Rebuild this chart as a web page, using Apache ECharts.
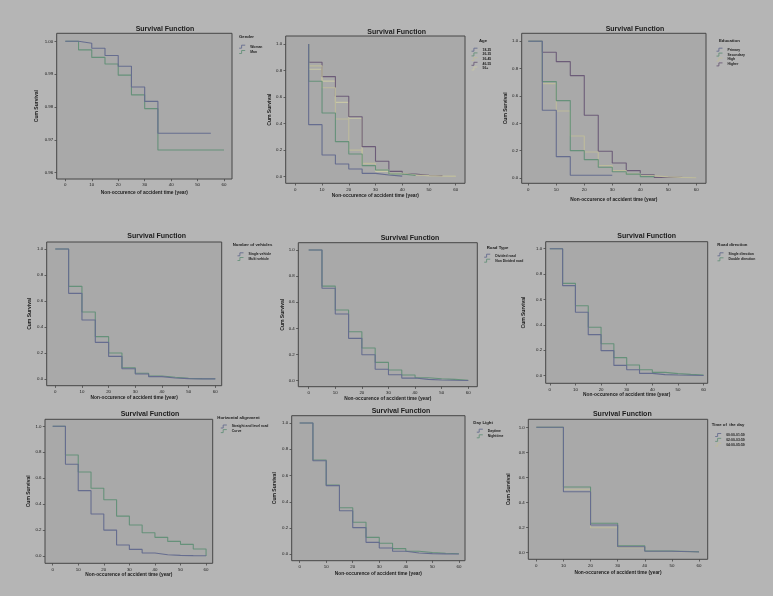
<!DOCTYPE html>
<html><head><meta charset="utf-8">
<script src="https://cdn.jsdelivr.net/npm/echarts@6/dist/echarts.min.js"></script>
<style>html,body{margin:0;padding:0;background:#b5b5b5}#c{width:773px;height:596px}</style>
</head><body><div id="c"></div>
<script>
// ---------------- DATA ----------------
const xTicks = [0, 10, 20, 30, 40, 50, 60];
const yTicksGender = [0.96, 0.97, 0.98, 0.99, 1.00];
const yTicks = [0.0, 0.2, 0.4, 0.6, 0.8, 1.0];
const times5 = [0, 5, 10, 15, 20, 25, 30, 35, 40, 45, 50, 55, 60];
const times10 = [0, 10, 20, 30, 40, 50, 60];

// Gender
const genderNames = ["Woman", "Man"];
const womanTimes = [0, 5, 10, 15, 20, 25, 30, 35, 55];
const womanSurv = [1.0, 0.9994, 0.9979, 0.9957, 0.9924, 0.9861, 0.9817, 0.9720, 0.9720];
const manTimes = [0, 5, 10, 15, 20, 25, 30, 35, 60];
const manSurv = [1.0, 0.9974, 0.9951, 0.9931, 0.9897, 0.9837, 0.9795, 0.9669, 0.9669];

// Age
const ageNames = ["18-25", "26-35", "36-45", "46-55", "56+"];
const age1Times = [5, 5, 10, 15, 20, 25, 30, 35, 40];
const age1Surv = [1.0, 0.392, 0.163, 0.095, 0.058, 0.025, 0.013, 0.004, 0.004];
const age2Times = [5, 5, 10, 15, 20, 25, 30, 35, 40, 45];
const age2Surv = [1.0, 0.719, 0.48, 0.264, 0.171, 0.083, 0.05, 0.02, 0.01, 0.01];
const age3Times = [5, 5, 10, 15, 20, 25, 30, 35, 40, 45, 50, 55, 60];
const age3Surv = [1.0, 0.835, 0.67, 0.435, 0.2, 0.1, 0.05, 0.025, 0.012, 0.008, 0.005, 0.003, 0.003];
const age4Times = [5, 5, 10, 15, 20, 25, 30, 35, 40, 45, 50, 55];
const age4Surv = [1.0, 0.862, 0.754, 0.606, 0.452, 0.226, 0.116, 0.04, 0.02, 0.01, 0.008, 0.008];
const age5Times = [5, 5, 10, 15, 20, 25, 30, 35, 40, 45, 50, 55, 60];
const age5Surv = [1.0, 0.81, 0.72, 0.56, 0.44, 0.085, 0.04, 0.02, 0.012, 0.008, 0.005, 0.003, 0.003];

// Education
const eduNames = ["Primary", "Secondary", "High", "Higher"];
const eduPrimaryTimes = [0, 5, 10, 15, 30];
const eduPrimary = [1.0, 0.495, 0.156, 0.02, 0.02];
const eduSecondaryTimes = [0, 5, 10, 15, 20, 25, 30, 35, 40, 45];
const eduSecondary = [1.0, 0.705, 0.566, 0.2, 0.134, 0.078, 0.046, 0.028, 0.01, 0.01];
const eduHighTimes = [0, 5, 10, 15, 20, 25, 30, 35, 40, 45, 50, 55, 60];
const eduHigh = [1.0, 0.69, 0.49, 0.307, 0.19, 0.09, 0.054, 0.03, 0.015, 0.008, 0.004, 0.002, 0.002];
const eduHigherTimes = [0, 5, 10, 15, 20, 25, 30, 35, 40, 45, 55];
const eduHigher = [1.0, 0.92, 0.851, 0.749, 0.459, 0.195, 0.11, 0.054, 0.024, 0.004, 0.004];

// Number of vehicles
const vehNames = ["Single vehicle", "Multi vehicle"];
const vehSingle = [1.0, 0.659, 0.454, 0.282, 0.174, 0.079, 0.038, 0.018, 0.008, 0.003, 0.001, 0.001, 0.001];
const vehMulti = [1.0, 0.713, 0.515, 0.326, 0.2, 0.087, 0.044, 0.023, 0.013, 0.005, 0.003, 0.002, 0.002];

// Road type
const roadTypeNames = ["Divided road", "Non Divided road"];
const roadDivided = [1.0, 0.707, 0.51, 0.324, 0.199, 0.087, 0.046, 0.02, 0.01, 0.005, 0.003, 0.002, 0.002];
const roadNonDivided = [1.0, 0.724, 0.541, 0.375, 0.25, 0.14, 0.082, 0.043, 0.023, 0.015, 0.01, 0.003, 0.003];

// Road direction
const dirNames = ["Single direction", "Double direction"];
const dirSingle = [1.0, 0.709, 0.499, 0.323, 0.197, 0.081, 0.047, 0.018, 0.008, 0.005, 0.003, 0.001, 0.001];
const dirDouble = [1.0, 0.727, 0.551, 0.381, 0.252, 0.142, 0.084, 0.047, 0.026, 0.016, 0.01, 0.005, 0.005];

// Horizontal alignment
const alignNames = ["Straight and level road", "Curve"];
const alignStraight = [1.0, 0.707, 0.504, 0.324, 0.2, 0.085, 0.051, 0.023, 0.01, 0.005, 0.003, 0.002, 0.002];
const alignCurve = [1.0, 0.779, 0.648, 0.522, 0.434, 0.308, 0.239, 0.18, 0.144, 0.113, 0.09, 0.054, 0.0];

// Day light
const dayNames = ["Daytime", "Nighttime"];
const dayDaytime = [1.0, 0.713, 0.523, 0.332, 0.203, 0.091, 0.048, 0.023, 0.01, 0.005, 0.003, 0.002, 0.002];
const dayNighttime = [1.0, 0.718, 0.528, 0.355, 0.244, 0.129, 0.084, 0.043, 0.023, 0.013, 0.008, 0.004, 0.004];

// Time of the day
const todNames = ["00:00-01:59", "02:00-03:59", "04:00-05:59"];
const tod0 = [1.0, 0.485, 0.219, 0.045, 0.008, 0.003, 0.003];
const tod2 = [1.0, 0.523, 0.232, 0.053, 0.011, 0.004, 0.004];
const tod4 = [1.0, 0.504, 0.197, 0.037, 0.006, 0.002, 0.002];

const legendTitles = ["Gender", "Age", "Education", "Number of vehicles", "Road Type", "Road direction", "Horizontal alignment", "Day Light", "Time of  the day"];
const chartTitle = "Survival Function";
const xTitle = "Non-occurence of accident time (year)";
const yTitle = "Cum Survival";

// ---------------- STYLE / LAYOUT ----------------
const C_BLUE = "#666d8f", C_GREEN = "#66917a", C_BEIGE = "#bdbb9c", C_PURPLE = "#6c5c78", C_YELLOW = "#c8c7a6";
const colors = [C_BLUE, C_GREEN, C_BEIGE, C_PURPLE, C_YELLOW];
const PLOT_BG = "#a9a9a9", FRAME = "#474747", TXT = "#1c1c1c";

const panels = [
  {L:56.7,T:33.3,W:175.3,H:145.7,x:[-3.25,63.0],y:[0.95808,1.00244],dec:2,yt:yTicksGender,title:[165,29.3],legT:[239,37.3],legX:236.7,legC:44.7,pitch:5.3,yGap:19.7,xGap:14,
   series:[[womanTimes,womanSurv],[manTimes,manSurv]],names:genderNames},
  {L:285.7,T:36,W:179.3,H:147.3,x:[-3.59,63.48],y:[-0.05,1.06],dec:1,yt:yTicks,title:[396.7,32.3],legT:[479,40.7],legX:469,legC:47.7,pitch:4.7,yGap:13.5,xGap:12.7,
   series:[[age1Times,age1Surv],[age2Times,age2Surv],[age3Times,age3Surv],[age4Times,age4Surv],[age5Times,age5Surv]],names:ageNames},
  {L:521.7,T:33.3,W:184.3,H:150,x:[-2.36,63.5],y:[-0.039,1.0585],dec:1,yt:yTicks,title:[635,29.3],legT:[719,41.3],legX:714,legC:47.7,pitch:4.9,yGap:14.7,xGap:16,
   series:[[eduPrimaryTimes,eduPrimary],[eduSecondaryTimes,eduSecondary],[eduHighTimes,eduHigh],[eduHigherTimes,eduHigher]],names:eduNames},
  {L:46.7,T:242,W:175,H:143.7,x:[-3.22,62.4],y:[-0.0515,1.054],dec:1,yt:yTicks,title:[156.7,236],legT:[232.7,245],legX:235,legC:252.3,pitch:4.7,yGap:16.7,xGap:12,
   series:[[times5,vehSingle],[times5,vehMulti]],names:vehNames},
  {L:298.3,T:242.7,W:179,H:144,x:[-3.9,63.4],y:[-0.046,1.056],dec:1,yt:yTicks,title:[410,237.7],legT:[486.7,248.3],legX:481.7,legC:253.7,pitch:5,yGap:15,xGap:12.3,
   series:[[times5,roadDivided],[times5,roadNonDivided]],names:roadTypeNames},
  {L:545.7,T:241.7,W:162,H:141.6,x:[-1.6,61.6],y:[-0.06,1.055],dec:1,yt:yTicks,title:[646.7,236.3],legT:[717.3,245],legX:715,legC:252.3,pitch:5,yGap:22.4,xGap:10,
   series:[[times5,dirSingle],[times5,dirDouble]],names:dirNames},
  {L:45,T:419.3,W:167.7,H:144,x:[-3.0,62.6],y:[-0.056,1.054],dec:1,yt:yTicks,title:[150,414.3],legT:[217.3,418.3],legX:218.3,legC:424.5,pitch:4.6,yGap:16.7,xGap:11,
   series:[[times5,alignStraight],[times5,alignCurve]],names:alignNames},
  {L:291.7,T:415.7,W:173.3,H:145,x:[-3.0,62.3],y:[-0.049,1.056],dec:1,yt:yTicks,title:[401,411],legT:[473.3,423.3],legX:474.3,legC:428.7,pitch:5.6,yGap:16.7,xGap:13.3,
   series:[[times5,dayDaytime],[times5,dayNighttime]],names:dayNames},
  {L:528.3,T:419.3,W:179.4,H:140,x:[-2.95,63.2],y:[-0.056,1.064],dec:1,yt:yTicks,title:[622.3,414],legT:[711.7,425.3],legX:712.7,legC:433,pitch:4.85,yGap:20,xGap:13,
   series:[[times10,tod0],[times10,tod2],[times10,tod4]],names:todNames}
];

const FONT = "Liberation Sans, Arial, sans-serif";
const grid = [], xAxis = [], yAxis = [], series = [], legend = [], graphic = [];

panels.forEach((p, i) => {
  grid.push({left:p.L, top:p.T, width:p.W, height:p.H, show:true, backgroundColor:PLOT_BG, borderColor:FRAME, borderWidth:1, containLabel:false});
  xAxis.push({type:'value', gridIndex:i, min:p.x[0], max:p.x[1], position:'bottom',
    name:xTitle, nameLocation:'middle', nameGap:p.xGap - 2.6,
    nameTextStyle:{fontFamily:FONT, fontSize:4.8, fontWeight:'bold', color:TXT},
    axisLine:{show:false, onZero:false}, splitLine:{show:false},
    axisTick:{show:true, inside:false, length:2.2, customValues:xTicks, lineStyle:{color:FRAME, width:0.8}},
    axisLabel:{show:true, customValues:xTicks, fontFamily:FONT, fontSize:4.4, color:TXT, margin:4, formatter:v => String(Math.round(v))}});
  yAxis.push({type:'value', gridIndex:i, min:p.y[0], max:p.y[1], position:'left',
    name:yTitle, nameLocation:'middle', nameGap:p.yGap - 2.6, nameRotate:90,
    nameTextStyle:{fontFamily:FONT, fontSize:5, fontWeight:'bold', color:TXT},
    axisLine:{show:false, onZero:false}, splitLine:{show:false},
    axisTick:{show:true, inside:false, length:2.2, customValues:p.yt, lineStyle:{color:FRAME, width:0.8}},
    axisLabel:{show:true, customValues:p.yt, fontFamily:FONT, fontSize:4.4, color:TXT, margin:3.5, formatter:v => v.toFixed(p.dec)}});
  p.series.forEach((s, k) => {
    const [ts, vs] = s;
    series.push({type:'line', name:p.names[k], xAxisIndex:i, yAxisIndex:i, step:'end', symbol:'none', silent:true,
      color:colors[k], lineStyle:{color:colors[k], width:1.1},
      data: ts.map((t, j) => [t, vs[j]]), z: 10 - k});
    // one legend entry per component so each row sits exactly where the reference has it
    legend.push({data:[{name:p.names[k], itemStyle:{color:'none', borderColor:colors[k], borderWidth:0.9}}],
      icon:'path://M0,6L4,6L4,0L10,0', symbolKeepAspect:false,
      orient:'vertical', left:p.legX, top:p.legC + k * p.pitch - 2, padding:0, itemGap:0,
      itemWidth:6, itemHeight:3, selectedMode:false,
      textStyle:{fontFamily:FONT, fontSize:3.4, lineHeight:4, fontWeight:'bold', color:TXT}});
  });
  graphic.push({type:'text', x:p.title[0], y:p.title[1], style:{text:chartTitle, fill:TXT, font:'bold 7px ' + FONT, textAlign:'center', textVerticalAlign:'middle', align:'center', verticalAlign:'middle'}});
  graphic.push({type:'text', x:p.legT[0], y:p.legT[1], style:{text:legendTitles[i], fill:TXT, font:'bold 4.3px ' + FONT, textAlign:'left', textVerticalAlign:'middle', align:'left', verticalAlign:'middle'}});
});

const chart = echarts.init(document.getElementById('c'), null, {renderer:'canvas'});
chart.setOption({backgroundColor:'#b5b5b5', animation:false, grid, xAxis, yAxis, series, legend, graphic});
</script></body></html>
